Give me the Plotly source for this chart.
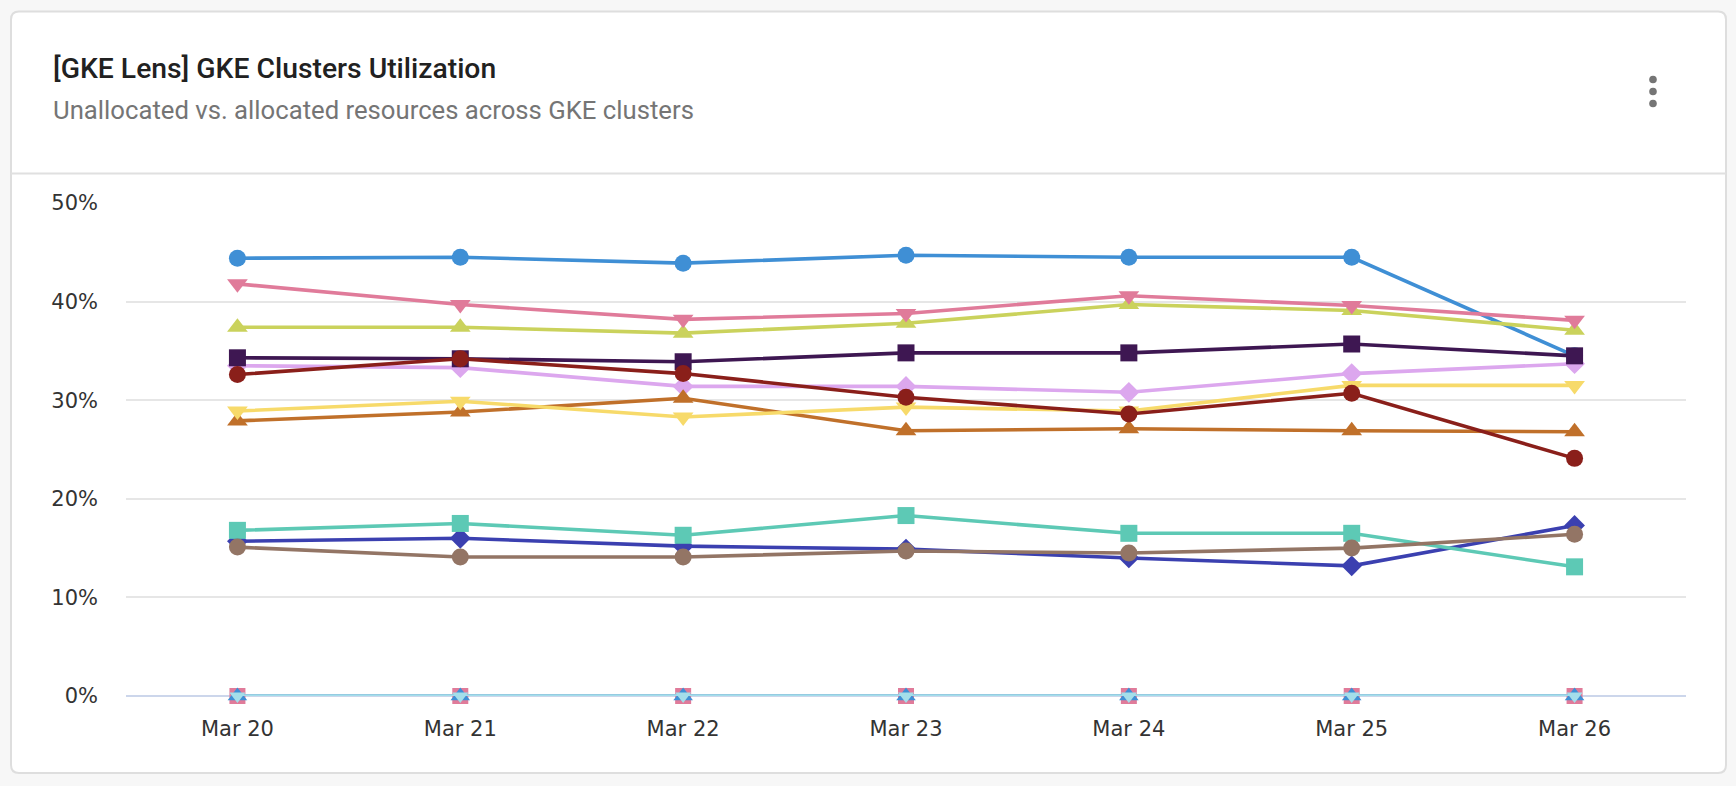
import plotly.graph_objects as go

dates = ["Mar 20", "Mar 21", "Mar 22", "Mar 23", "Mar 24", "Mar 25", "Mar 26"]

blue_circle = [44.4, 44.5, 43.9, 44.7, 44.5, 44.5, 34.5]
indigo_diamond = [15.7, 16.0, 15.2, 14.9, 14.0, 13.2, 17.3]
teal_square = [16.8, 17.5, 16.3, 18.3, 16.5, 16.5, 13.1]
olive_triangle = [37.4, 37.4, 36.8, 37.8, 39.7, 39.1, 37.1]
pink_tridown = [41.8, 39.7, 38.2, 38.8, 40.6, 39.6, 38.1]
brown_circle = [15.1, 14.1, 14.1, 14.7, 14.5, 15.0, 16.4]
lavender_diamond = [33.5, 33.3, 31.4, 31.4, 30.8, 32.7, 33.7]
purple_square = [34.3, 34.2, 33.9, 34.8, 34.8, 35.7, 34.5]
orange_triangle = [27.9, 28.8, 30.2, 26.9, 27.1, 26.9, 26.8]
yellow_tridown = [28.9, 29.9, 28.3, 29.3, 28.9, 31.5, 31.5]
darkred_circle = [32.6, 34.2, 32.7, 30.3, 28.6, 30.7, 24.1]
zero_square = [0, 0, 0, 0, 0, 0, 0]
zero_triangle = [0, 0, 0, 0, 0, 0, 0]
zero_tridown = [0, 0, 0, 0, 0, 0, 0]

series = [
    (blue_circle, "#3F8FD5", "circle", 17),
    (indigo_diamond, "#3B40B0", "diamond", 16),
    (teal_square, "#5DC9B5", "square", 17),
    (olive_triangle, "#CAD25C", "triangle-up", 18),
    (pink_tridown, "#E07B9A", "triangle-down", 18),
    (brown_circle, "#937565", "circle", 17),
    (lavender_diamond, "#DCA7EE", "diamond", 16),
    (purple_square, "#3E1752", "square", 17),
    (orange_triangle, "#C0702A", "triangle-up", 18),
    (yellow_tridown, "#F7DA6A", "triangle-down", 18),
    (darkred_circle, "#8A1F1A", "circle", 17),
    (zero_square, "#E07B9A", "square", 16),
    (zero_triangle, "#3F8FD5", "triangle-up", 17),
    (zero_tridown, "#A4DEEA", "triangle-down", 14),
]

W, H = 1736, 786
PL, PR, PT, PB = 126, 1686, 202.6, 696.0

fig = go.Figure()
for vals, color, sym, size in series:
    fig.add_trace(go.Scatter(
        x=dates, y=vals, mode="lines+markers",
        line=dict(color=color, width=3.6),
        marker=dict(symbol=sym, size=size, color=color, line=dict(width=0)),
        cliponaxis=False, showlegend=False,
    ))

def px(x):
    return (x - PL) / (PR - PL)

def py(y):
    return (PB - y) / (PB - PT)

cx0, cx1, cy0, cy1, r = 11, 1726, 11, 773, 8
def rrect(x0, y0, x1, y1, r):
    return (f"M {px(x0+r)},{py(y0)} L {px(x1-r)},{py(y0)} "
            f"Q {px(x1)},{py(y0)} {px(x1)},{py(y0+r)} "
            f"L {px(x1)},{py(y1-r)} Q {px(x1)},{py(y1)} {px(x1-r)},{py(y1)} "
            f"L {px(x0+r)},{py(y1)} Q {px(x0)},{py(y1)} {px(x0)},{py(y1-r)} "
            f"L {px(x0)},{py(y0+r)} Q {px(x0)},{py(y0)} {px(x0+r)},{py(y0)} Z")

shapes = [
    dict(type="path", xref="paper", yref="paper", path=rrect(cx0, cy0, cx1, cy1, r),
         fillcolor="white", line=dict(color="#DEDEDE", width=2), layer="below"),
    dict(type="line", xref="paper", yref="paper", x0=px(cx0), x1=px(cx1), y0=py(173), y1=py(173),
         line=dict(color="#E0E0E0", width=2), layer="below"),
]
for dy in (79, 91, 103):
    shapes.append(dict(type="circle", xref="paper", yref="paper",
                       x0=px(1653 - 3.8), x1=px(1653 + 3.8), y0=py(dy - 3.8), y1=py(dy + 3.8),
                       fillcolor="#757575", line=dict(width=0), layer="above"))

annotations = [
    dict(text="[GKE Lens] GKE Clusters Utilization", xref="paper", yref="paper",
         x=px(51), y=py(67.5), xanchor="left", yanchor="middle", showarrow=False,
         font=dict(family="Roboto", size=28.3, color="#212121", weight=500)),
    dict(text="Unallocated vs. allocated resources across GKE clusters", xref="paper", yref="paper",
         x=px(51), y=py(110), xanchor="left", yanchor="middle", showarrow=False,
         font=dict(family="Roboto", size=25.7, color="#757575")),
]

fig.update_layout(
    width=W, height=H,
    margin=dict(l=PL, r=W - PR, t=PT, b=H - PB, pad=0),
    paper_bgcolor="#F7F7F7", plot_bgcolor="rgba(0,0,0,0)",
    shapes=shapes, annotations=annotations,
    font=dict(family="DejaVu Sans", size=21, color="#333333"),
)
fig.update_xaxes(
    type="category", range=[-0.5, 6.5], showgrid=False, zeroline=False,
    showline=False, ticks="", ticklabelstandoff=18,
    tickfont=dict(family="DejaVu Sans", size=21, color="#333333"),
)
fig.update_yaxes(
    range=[0, 50], tickvals=[0, 10, 20, 30, 40, 50],
    ticktext=["0%", "10%", "20%", "30%", "40%", "50%"],
    showgrid=True, gridcolor="#E6E6E6", gridwidth=2,
    zeroline=True, zerolinecolor="#CCD6EB", zerolinewidth=2,
    showline=False, ticks="", ticklabelstandoff=27,
    tickfont=dict(family="DejaVu Sans", size=21, color="#333333"),
)

fig.write_html("out.html", config={"displayModeBar": False},
               post_script="document.body.style.margin='0';document.body.style.overflow='hidden';")
